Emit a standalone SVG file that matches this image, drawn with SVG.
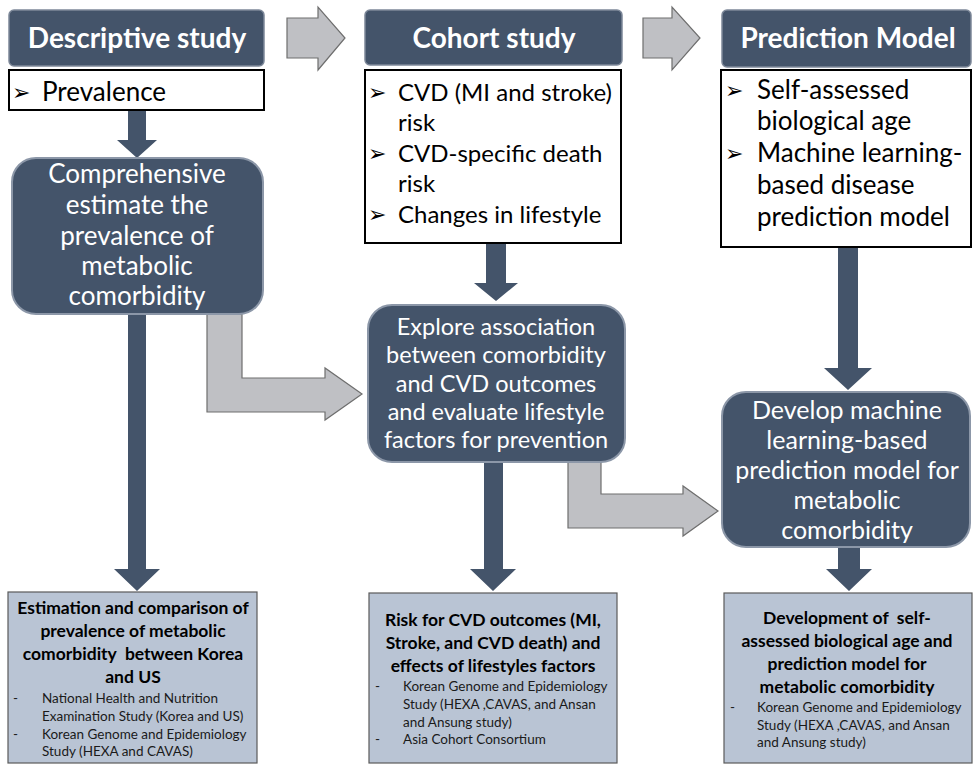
<svg xmlns="http://www.w3.org/2000/svg" width="973" height="764" viewBox="0 0 973 764">
<style>
.hdr{fill:#44546a;stroke:#7d8899;stroke-width:1.5}
.main{fill:#44546a;stroke:#8c97a8;stroke-width:2}
.blt{fill:#ffffff;stroke:#000000;stroke-width:2}
.btm{fill:#b9c4d4;stroke:#5a5a5a;stroke-width:1.2}
.dark{fill:#44546a}
.gray{fill:#bfc0c4;stroke:#6e6e6e;stroke-width:1.2}
.ht{font-family:Lato,"Open Sans",sans-serif;font-weight:bold;font-size:28px;fill:#ffffff;text-anchor:middle}
.mt{font-family:Lato,"Open Sans",sans-serif;font-size:26px;fill:#ffffff;text-anchor:middle}
.mt2{font-family:Lato,"Open Sans",sans-serif;font-size:23.5px;fill:#ffffff;text-anchor:middle}
.mt3{font-family:Lato,"Open Sans",sans-serif;font-size:25px;fill:#ffffff;text-anchor:middle}
.bt{font-family:Lato,"Open Sans",sans-serif;font-size:26px;fill:#000000}
.bt2{font-family:Lato,"Open Sans",sans-serif;font-size:24px;fill:#000000}
.bu{font-family:"DejaVu Sans",sans-serif;font-size:22px;fill:#000000}
.bb{font-family:Lato,"Open Sans",sans-serif;font-weight:bold;font-size:17.5px;fill:#000000;text-anchor:middle;white-space:pre}
.bl{font-family:Lato,"Open Sans",sans-serif;font-size:13.5px;fill:#1a1a1a}
</style>
<g id="connectors">
<path class="gray" d="M287,18 H318 V7 L345,38 L318,70 V58 H287 Z"/>
<path class="gray" d="M643,18 H672 V7 L700,38 L672,70 V58 H643 Z"/>
<path class="dark" d="M128,110 H146 V140 H157 L137,158 L117,140 H128 Z"/>
<path class="dark" d="M128,313 H146 V569 H160 L137,591 L114,569 H128 Z"/>
<path class="dark" d="M486,243 H506 V283 H518 L496,301 L474,283 H486 Z"/>
<path class="dark" d="M484,462 H503 V569 H516 L493,591 L470,569 H484 Z"/>
<path class="dark" d="M838,247 H858 V368 H872 L848,390 L824,368 H838 Z"/>
<path class="dark" d="M838,547 H860 V569 H872 L849,591 L826,569 H838 Z"/>
<path class="gray" d="M207,314 H242 V378 H325 V368 L362,394 L325,420 V412 H207 Z"/>
<path class="gray" d="M568,461 H601 V494 H683 V486 L718,511 L683,536 V528 H568 Z"/>
</g>
<g id="hdr-descriptive">
<rect class="hdr" x="9" y="10" width="255" height="56" rx="5"/>
<text class="ht" x="137" y="48">Descriptive study</text>
</g>
<g id="hdr-cohort">
<rect class="hdr" x="365" y="10" width="257" height="55" rx="5"/>
<text class="ht" x="494" y="48">Cohort study</text>
</g>
<g id="hdr-prediction">
<rect class="hdr" x="722" y="10" width="249" height="57" rx="5"/>
<text class="ht" x="848" y="48">Prediction Model</text>
</g>
<g id="bul-descriptive">
<rect class="blt" x="9" y="70" width="255" height="40"/>
<text class="bu" x="12" y="100">➢</text>
<text class="bt" x="42" y="101">Prevalence</text>
</g>
<g id="bul-cohort">
<rect class="blt" x="365" y="70" width="256" height="173"/>
<text class="bu" x="368" y="100">➢</text>
<text class="bt2" x="398" y="101">CVD (MI and stroke)</text>
<text class="bt2" x="398" y="131">risk</text>
<text class="bu" x="368" y="161">➢</text>
<text class="bt2" x="398" y="162">CVD-specific death</text>
<text class="bt2" x="398" y="192">risk</text>
<text class="bu" x="368" y="222">➢</text>
<text class="bt2" x="398" y="223">Changes in lifestyle</text>
</g>
<g id="bul-prediction">
<rect class="blt" x="721" y="70" width="250" height="177"/>
<text class="bu" x="725" y="98">➢</text>
<text class="bt" x="757" y="99">Self-assessed</text>
<text class="bt" x="757" y="130">biological age</text>
<text class="bu" x="725" y="161">➢</text>
<text class="bt" x="757" y="162">Machine learning-</text>
<text class="bt" x="757" y="194">based disease</text>
<text class="bt" x="757" y="226">prediction model</text>
</g>
<g id="main-comprehensive">
<rect class="main" x="12" y="158" width="251" height="156" rx="24"/>
<text class="mt" x="137" y="183">Comprehensive</text>
<text class="mt" x="137" y="214">estimate the</text>
<text class="mt" x="137" y="245">prevalence of</text>
<text class="mt" x="137" y="275">metabolic</text>
<text class="mt" x="137" y="305">comorbidity</text>
</g>
<g id="main-explore">
<rect class="main" x="368" y="305" width="257" height="157" rx="24"/>
<text class="mt2" x="496" y="335">Explore association</text>
<text class="mt2" x="496" y="363">between comorbidity</text>
<text class="mt2" x="496" y="392">and CVD outcomes</text>
<text class="mt2" x="496" y="420">and evaluate lifestyle</text>
<text class="mt2" x="496" y="448">factors for prevention</text>
</g>
<g id="main-develop">
<rect class="main" x="722" y="392" width="248" height="155" rx="24"/>
<text class="mt3" x="847" y="419">Develop machine</text>
<text class="mt3" x="847" y="449">learning-based</text>
<text class="mt3" x="847" y="479">prediction model for</text>
<text class="mt3" x="847" y="509">metabolic</text>
<text class="mt3" x="847" y="539">comorbidity</text>
</g>
<g id="out-descriptive">
<rect class="btm" x="8" y="592" width="249" height="171"/>
<text class="bb" x="133" y="614">Estimation and comparison of</text>
<text class="bb" x="133" y="637">prevalence of metabolic</text>
<text class="bb" x="133" y="660">comorbidity  between Korea</text>
<text class="bb" x="133" y="683">and US</text>
<text class="bl" x="13" y="703">-</text>
<text class="bl" x="42" y="703">National Health and Nutrition</text>
<text class="bl" x="42" y="721">Examination Study (Korea and US)</text>
<text class="bl" x="13" y="739">-</text>
<text class="bl" x="42" y="739">Korean Genome and Epidemiology</text>
<text class="bl" x="42" y="756">Study (HEXA and CAVAS)</text>
</g>
<g id="out-cohort">
<rect class="btm" x="369" y="593" width="248" height="170"/>
<text class="bb" x="493" y="626">Risk for CVD outcomes (MI,</text>
<text class="bb" x="493" y="649">Stroke, and CVD death) and</text>
<text class="bb" x="493" y="672">effects of lifestyles factors</text>
<text class="bl" x="375" y="691">-</text>
<text class="bl" x="403" y="691">Korean Genome and Epidemiology</text>
<text class="bl" x="403" y="709">Study (HEXA ,CAVAS, and Ansan</text>
<text class="bl" x="403" y="727">and Ansung study)</text>
<text class="bl" x="375" y="744">-</text>
<text class="bl" x="403" y="744">Asia Cohort Consortium</text>
</g>
<g id="out-prediction">
<rect class="btm" x="724" y="593" width="248" height="170"/>
<text class="bb" x="847" y="624">Development of  self-</text>
<text class="bb" x="847" y="647">assessed biological age and</text>
<text class="bb" x="847" y="670">prediction model for</text>
<text class="bb" x="847" y="693">metabolic comorbidity</text>
<text class="bl" x="730" y="712">-</text>
<text class="bl" x="757" y="712">Korean Genome and Epidemiology</text>
<text class="bl" x="757" y="730">Study (HEXA ,CAVAS, and Ansan</text>
<text class="bl" x="757" y="747">and Ansung study)</text>
</g>
</svg>
